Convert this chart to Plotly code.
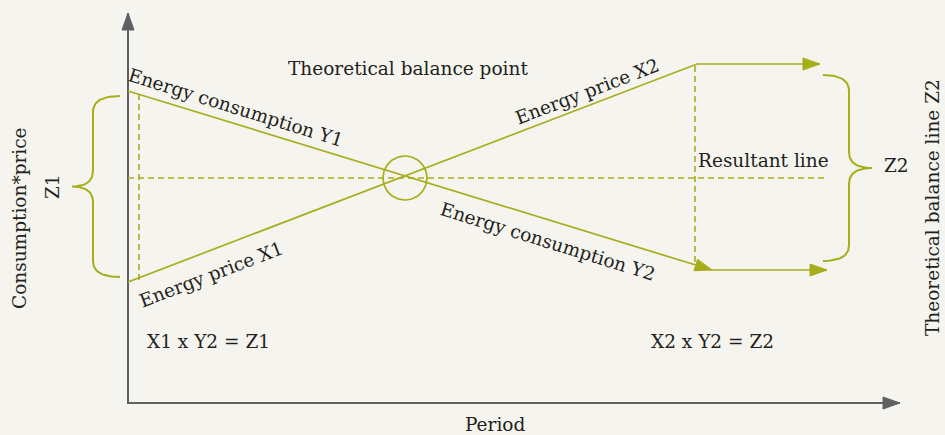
import numpy as np
import plotly.graph_objects as go

# ---- diagram data (diagram units, origin top-left) ----
axis_x = [128, 128, 900]
axis_y = [13, 403, 403]

price_x = [128, 697, 820]          # Energy price X1 -> X2
price_y = [282, 64, 64]
consumption_x = [128, 712, 827]    # Energy consumption Y1 -> Y2
consumption_y = [91, 270, 270]
resultant_x = [128, 828]
resultant_y = [178, 178]
drop_left_x = [139, 139]
drop_left_y = [94, 280]
drop_right_x = [695, 695]
drop_right_y = [66, 262]
balance_point = [405, 178]
balance_radius = 22

left_brace = dict(x_end=120, x_spine=93, x_tip=72, y_top=96, y_bottom=277)
right_brace = dict(x_end=823, x_spine=849, x_tip=872, y_top=75, y_bottom=261)

labels = [
    ("Theoretical balance point", 408, 68, 0),
    ("Energy consumption Y1", 236, 107, 17.3),
    ("Energy price X2", 587, 91, -20.9),
    ("Energy price X1", 211, 274, -20.9),
    ("Energy consumption Y2", 548, 241, 17.3),
    ("Resultant line", 763, 160, 0),
    ("Z2", 896, 165, 0),
    ("Theoretical balance line Z2", 932, 208, -90),
    ("Consumption*price", 19, 218, -90),
    ("Z1", 52, 187, -90),
    ("X1 x Y2 = Z1", 208, 341, 0),
    ("X2 x Y2 = Z2", 712, 341, 0),
    ("Period", 495, 424, 0),
]

OLIVE = "#a7ad1b"
GREY = "#5e6063"
TEXT = "#231f20"
BG = "#f5f4ee"
FONT = "DejaVu Serif"

fig = go.Figure()


def line(xs, ys, color, width, dash=None):
    fig.add_trace(go.Scatter(x=xs, y=ys, mode="lines", hoverinfo="skip",
                             line=dict(color=color, width=width, dash=dash)))


def arrowhead(x0, y0, x1, y1, color, length=17, half=6):
    d = np.array([x1 - x0, y1 - y0], float)
    d /= np.linalg.norm(d)
    n = np.array([-d[1], d[0]])
    tip = np.array([x1, y1], float)
    base = tip - d * length
    pts = [tip, base + n * half, base - n * half, tip]
    fig.add_trace(go.Scatter(x=[p[0] for p in pts], y=[p[1] for p in pts],
                             mode="lines", fill="toself", fillcolor=color,
                             line=dict(color=color, width=1), hoverinfo="skip"))


def qbez(p0, c, p1, n=20):
    t = np.linspace(0, 1, n)[:, None]
    return (1 - t) ** 2 * np.array(p0) + 2 * (1 - t) * t * np.array(c) + t ** 2 * np.array(p1)


def brace(x_end, x_spine, x_tip, y_top, y_bottom, r=16):
    ym = (y_top + y_bottom) / 2
    segs = [
        qbez((x_end, y_top), (x_spine, y_top), (x_spine, y_top + r)),
        np.array([[x_spine, y_top + r], [x_spine, ym - r]]),
        qbez((x_spine, ym - r), (x_spine, ym), (x_tip, ym)),
        qbez((x_tip, ym), (x_spine, ym), (x_spine, ym + r)),
        np.array([[x_spine, ym + r], [x_spine, y_bottom - r]]),
        qbez((x_spine, y_bottom - r), (x_spine, y_bottom), (x_end, y_bottom)),
    ]
    pts = np.vstack(segs)
    line(pts[:, 0], pts[:, 1], OLIVE, 2)


# axes
line(axis_x, axis_y, GREY, 2)
arrowhead(axis_x[1], axis_y[1], axis_x[0], axis_y[0], GREY)
arrowhead(axis_x[1], axis_y[1], axis_x[2], axis_y[2], GREY)

# dashed guides
line(resultant_x, resultant_y, OLIVE, 1.6, "6px,4px")
line(drop_left_x, drop_left_y, OLIVE, 1.6, "6px,4px")
line(drop_right_x, drop_right_y, OLIVE, 1.6, "6px,4px")

# price line
line(price_x, price_y, OLIVE, 1.7)
arrowhead(price_x[1], price_y[1], price_x[2], price_y[2], OLIVE)

# consumption line
line(consumption_x, consumption_y, OLIVE, 1.7)
arrowhead(consumption_x[0], consumption_y[0], consumption_x[1], consumption_y[1], OLIVE)
arrowhead(consumption_x[1], consumption_y[1], consumption_x[2], consumption_y[2], OLIVE)

# balance circle
th = np.linspace(0, 2 * np.pi, 100)
line(balance_point[0] + balance_radius * np.cos(th),
     balance_point[1] + balance_radius * np.sin(th), OLIVE, 1.7)

brace(**left_brace)
brace(**right_brace)

for text, x, y, ang in labels:
    fig.add_annotation(x=x, y=y, text=text, showarrow=False, textangle=ang,
                       font=dict(family=FONT, size=18.5, color=TEXT),
                       xanchor="center", yanchor="middle")

fig.update_layout(
    width=945, height=435, margin=dict(l=0, r=0, t=0, b=0),
    paper_bgcolor=BG, plot_bgcolor=BG, showlegend=False,
    xaxis=dict(range=[0, 945], visible=False, fixedrange=True),
    yaxis=dict(range=[435, 0], visible=False, fixedrange=True),
)

fig.write_html("out.html", config={"displayModeBar": False},
               post_script="document.body.style.margin='0';document.body.style.background='#f5f4ee';")
